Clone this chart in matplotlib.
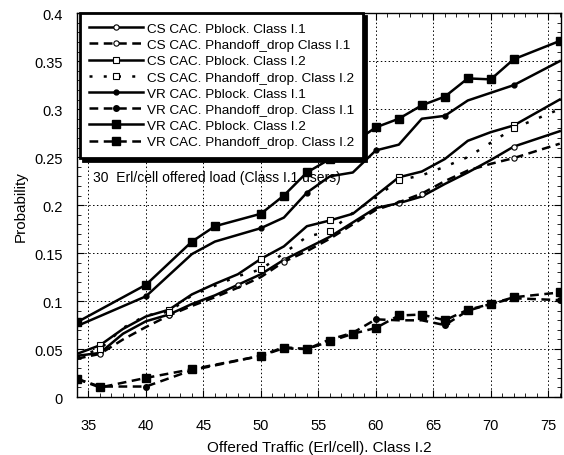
import matplotlib
matplotlib.use("Agg")
import matplotlib.pyplot as plt

plt.rcParams['font.family'] = ['Liberation Sans', 'DejaVu Sans']

# ---- data ----
x_cs = [34, 36, 38, 40, 42, 44, 46, 48, 50, 52, 54, 56, 58, 60, 62, 64, 66, 68, 70, 72, 76]
cs_pblock_i1 = [0.043, 0.046, 0.066, 0.079, 0.086, 0.097, 0.106, 0.117, 0.128, 0.143, 0.155,
                0.167, 0.182, 0.197, 0.202, 0.209, 0.222, 0.234, 0.247, 0.261, 0.277]
cs_phand_i1 = [0.040, 0.045, 0.060, 0.073, 0.085, 0.095, 0.104, 0.114, 0.125, 0.141, 0.152,
               0.165, 0.180, 0.195, 0.203, 0.212, 0.225, 0.236, 0.243, 0.249, 0.264]
cs_pblock_i2 = [0.045, 0.054, 0.071, 0.084, 0.091, 0.107, 0.118, 0.128, 0.144, 0.157, 0.178,
                0.184, 0.191, 0.210, 0.229, 0.235, 0.248, 0.267, 0.276, 0.283, 0.310]
cs_phand_i2 = [0.042, 0.050, 0.072, 0.085, 0.089, 0.106, 0.116, 0.126, 0.133, 0.150, 0.167,
               0.173, 0.192, 0.208, 0.226, 0.231, 0.240, 0.250, 0.265, 0.280, 0.300]

x_vr_pb2 = [34, 40, 44, 46, 50, 52, 54, 56, 60, 62, 64, 66, 68, 70, 72, 76]
vr_pblock_i2 = [0.078, 0.117, 0.162, 0.178, 0.191, 0.210, 0.234, 0.248, 0.281, 0.290, 0.304,
                0.313, 0.332, 0.331, 0.352, 0.371]
x_vr_pb1 = [34, 40, 44, 46, 50, 52, 54, 56, 58, 60, 62, 64, 66, 68, 72, 76]
vr_pblock_i1 = [0.074, 0.105, 0.149, 0.162, 0.176, 0.187, 0.213, 0.230, 0.234, 0.257, 0.263,
                0.290, 0.293, 0.309, 0.325, 0.350]
x_vr_ph = [34, 36, 40, 44, 50, 52, 54, 56, 58, 60, 62, 64, 66, 68, 70, 72, 76]
vr_phand_i1 = [0.019, 0.011, 0.011, 0.028, 0.043, 0.052, 0.050, 0.060, 0.067, 0.081, 0.080,
               0.080, 0.075, 0.090, 0.097, 0.103, 0.101]
vr_phand_i2 = [0.019, 0.010, 0.020, 0.029, 0.043, 0.051, 0.050, 0.058, 0.066, 0.072, 0.085,
               0.086, 0.080, 0.091, 0.097, 0.104, 0.109]

labels = ["CS CAC. Pblock. Class I.1", "CS CAC. Phandoff_drop Class I.1",
          "CS CAC. Pblock. Class I.2", "CS CAC. Phandoff_drop. Class I.2",
          "VR CAC. Pblock. Class I.1", "VR CAC. Phandoff_drop. Class I.1",
          "VR CAC. Pblock. Class I.2", "VR CAC. Phandoff_drop. Class I.2"]
annotation = "30  Erl/cell offered load (Class I.1 users)"

fig = plt.figure(figsize=(5.64, 4.56), dpi=100)
ax = fig.add_axes([0.1365, 0.127, 0.858, 0.842])

dash = (0, (3.5, 2.2))
dot = (0, (1.2, 4.5))
lw = 1.8

ax.plot(x_cs, cs_pblock_i1, color='k', lw=lw, ls='-', marker='o', ms=3.8, mfc='white', mec='k',
        mew=0.8, markevery=[1, 4, 7, 9, 14, 19], label=labels[0], zorder=3)
ax.plot(x_cs, cs_phand_i1, color='k', lw=lw, ls=dash, marker='o', ms=3.8, mfc='white', mec='k',
        mew=0.8, markevery=[1, 4, 9, 15, 19], label=labels[1], zorder=3)
ax.plot(x_cs, cs_pblock_i2, color='k', lw=lw, ls='-', marker='s', ms=3.8, mfc='white', mec='k',
        mew=0.8, markevery=[1, 4, 8, 11, 14, 19], label=labels[2], zorder=3)
ax.plot(x_cs, cs_phand_i2, color='k', lw=lw, ls=dot, marker='s', ms=3.8, mfc='white', mec='k',
        mew=0.8, markevery=[1, 4, 8, 11, 14, 19], label=labels[3], zorder=3)
ax.plot(x_vr_pb1, vr_pblock_i1, color='k', lw=lw, ls='-', marker='o', ms=3.5, mfc='k', mec='k',
        markevery=[1, 4, 6, 9, 12, 14], label=labels[4], zorder=3)
ax.plot(x_vr_ph, vr_phand_i1, color='k', lw=lw, ls=dash, marker='o', ms=4.0, mfc='k', mec='k',
        markevery=[0, 2, 4, 5, 9, 12, 15, 16], label=labels[5], zorder=3)
ax.plot(x_vr_pb2, vr_pblock_i2, color='k', lw=lw, ls='-', marker='s', ms=5.3, mfc='k', mec='k',
        label=labels[6], zorder=3)
ax.plot(x_vr_ph, vr_phand_i2, color='k', lw=lw, ls=dash, marker='s', ms=5.3, mfc='k', mec='k',
        label=labels[7], zorder=3)

ax.text(35.4, 0.229, annotation, fontsize=10, va='center', ha='left', zorder=1)

ax.set_xlim(34, 76.1)
ax.set_ylim(0, 0.4)
ax.set_xticks([35, 40, 45, 50, 55, 60, 65, 70, 75])
ax.set_xticks(range(34, 77), minor=True)
ax.set_yticks([0, 0.05, 0.1, 0.15, 0.2, 0.25, 0.3, 0.35, 0.4])
ax.set_yticklabels(['0', '0.05', '0.1', '0.15', '0.2', '0.25', '0.3', '0.35', '0.4'])
ax.set_yticks([i * 0.01 for i in range(41)], minor=True)
ax.tick_params(which='both', direction='in', top=True, right=True, labelsize=10.5, color='k')
ax.tick_params(which='major', length=5, width=0.8)
ax.tick_params(which='minor', length=3, width=0.6)
ax.tick_params(axis='x', which='major', pad=15)
ax.tick_params(axis='y', which='major', pad=10)
ax.grid(True, which='major', color='k', ls=(0, (1.5, 2.5)), lw=0.7)
ax.set_axisbelow(True)
for s in ax.spines.values():
    s.set_linewidth(1.0)

ax.set_xlabel("Offered Traffic (Erl/cell). Class I.2", fontsize=11, labelpad=6)
ax.set_ylabel("Probability", fontsize=11, labelpad=5)

leg = ax.legend(loc='upper left', bbox_to_anchor=(0.006, 1.0), borderaxespad=0,
                fontsize=9.7, handlelength=4.0, handletextpad=0.25, labelspacing=0.28,
                borderpad=0.7, fancybox=False, framealpha=1, edgecolor='k',
                shadow={'color': 'k', 'alpha': 1, 'ox': 2, 'oy': -2})
leg.get_frame().set_linewidth(2.0)
leg.set_zorder(5)

fig.savefig("out.png", dpi=100)
